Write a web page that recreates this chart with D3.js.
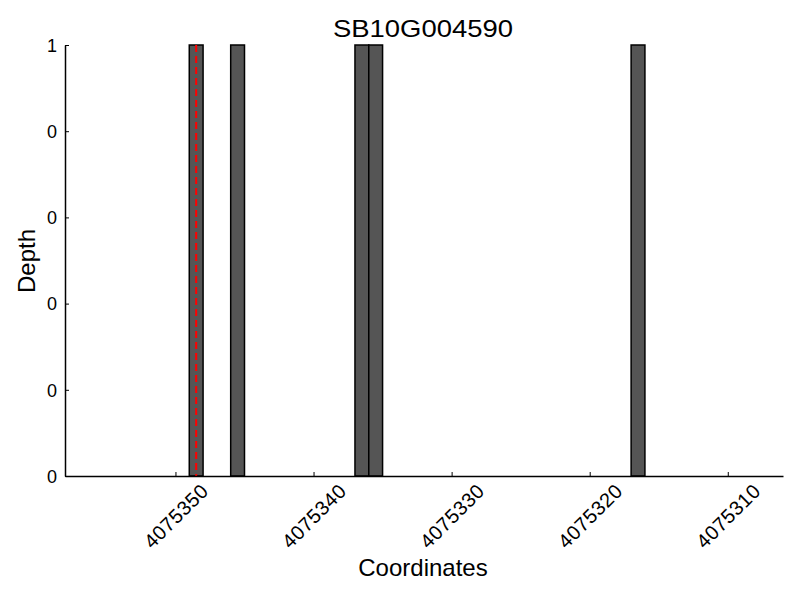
<!DOCTYPE html>
<html><head><meta charset="utf-8">
<script src="https://cdn.jsdelivr.net/npm/d3@7"></script>
<style>body{margin:0;background:#fff}text{font-family:"Liberation Sans",Arial,sans-serif;fill:#000}</style>
</head><body><svg id="c" width="800" height="600"></svg>
<script>
const title = "SB10G004590";
const positions = [4075348, 4075345, 4075336, 4075335, 4075316];
const depths = [1, 1, 1, 1, 1];
const markerPos = [4075348.5];
const xTicks = [4075350, 4075340, 4075330, 4075320, 4075310];
const yTicks = [0, 0.2, 0.4, 0.6, 0.8, 1];
const xDomain = [4075358, 4075306];
const yDomain = [0, 1];

const svg = d3.select("#c");
const m = {l:65, r:783, t:45, b:476};
const x = d3.scaleLinear().domain(xDomain).range([m.l, m.r]);
const y = d3.scaleLinear().domain(yDomain).range([m.b, m.t]);

// bars
svg.append("g").selectAll("rect").data(positions).join("rect")
  .attr("x", (d)=>x(d+1)).attr("width", (d)=>x(d)-x(d+1))
  .attr("y", (d,i)=>y(depths[i])).attr("height", (d,i)=>y(0)-y(depths[i]))
  .attr("fill", "#555555").attr("stroke", "#000").attr("stroke-width", 1.5);

// marker line
svg.append("g").selectAll("line").data(markerPos).join("line")
  .attr("x1", d=>x(d)).attr("x2", d=>x(d)).attr("y1", y(1)).attr("y2", y(0))
  .attr("stroke", "red").attr("stroke-width", 2).attr("stroke-dasharray", "7,4");

// axes
const xa = svg.append("g").attr("transform", `translate(0,${m.b})`)
  .call(d3.axisTop(x).tickValues(xTicks).tickSize(4).tickSizeOuter(0).tickFormat(d3.format("d")));
xa.attr("font-size", null);
xa.select(".domain").attr("stroke-width", 1.5);
xa.selectAll(".tick text").attr("y", 0).attr("dy", null)
  .attr("transform", "translate(0,40) rotate(-45)")
  .attr("text-anchor", "middle").attr("dominant-baseline", "central")
  .attr("font-size", 20).style("font-size", "20px").style("letter-spacing", "0.5px");

const ya = svg.append("g").attr("transform", `translate(${m.l},0)`)
  .call(d3.axisRight(y).tickValues(yTicks).tickSize(4).tickSizeOuter(0).tickFormat(d=>String(Math.floor(d))));
ya.attr("font-size", null);
ya.select(".domain").attr("stroke-width", 1.5);
ya.selectAll(".tick text").attr("x", -8).attr("text-anchor", "end").attr("dy", "0.35em")
  .attr("font-size", 18).style("font-size", "18px");

// title & labels
svg.append("text").attr("x", 423).attr("y", 37).attr("text-anchor", "middle")
  .style("font-size", "24px").attr("textLength", 180).attr("lengthAdjust", "spacingAndGlyphs").text(title);
svg.append("text").attr("x", 423).attr("y", 576).attr("text-anchor", "middle")
  .style("font-size", "24px").text("Coordinates");
svg.append("text").attr("transform", "translate(35,261) rotate(-90)").attr("text-anchor", "middle")
  .style("font-size", "24px").text("Depth");
</script></body></html>
